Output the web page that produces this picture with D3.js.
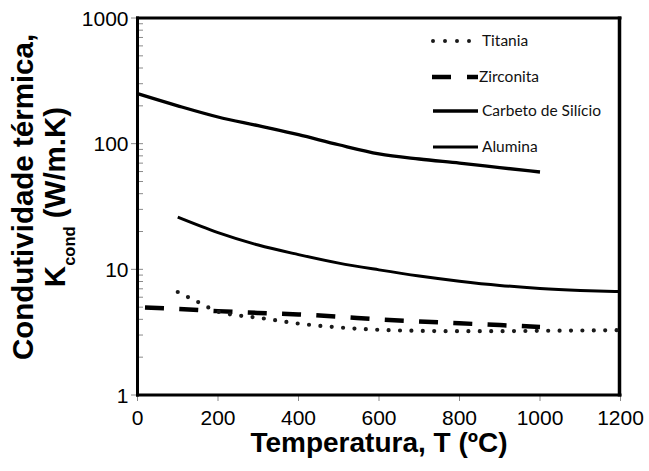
<!DOCTYPE html>
<html>
<head>
<meta charset="utf-8">
<script src="https://cdn.jsdelivr.net/npm/d3@7"></script>
<style>
  body { margin: 0; background: #fff; }
  svg { display: block; }
</style>
</head>
<body>
<svg id="chart" width="649" height="471"></svg>
<script>
// Thermal conductivity (W/m.K) versus temperature (°C)
const sicTemps = [0, 100, 200, 300, 400, 500, 600, 700, 800, 900, 1000];
const sicValues = [250, 200, 163, 139, 118, 98, 83, 75.5, 70, 64.5, 59.5];

const aluminaTemps = [100, 200, 300, 400, 500, 600, 700, 800, 900, 1000, 1100, 1200];
const aluminaValues = [26, 19.6, 15.6, 13.1, 11.2, 9.9, 8.85, 8.05, 7.45, 7.05, 6.8, 6.65];

const zirconiaTemps = [0, 100, 200, 300, 400, 500, 600, 700, 800, 900, 1000];
const zirconiaValues = [5.0, 4.85, 4.65, 4.5, 4.38, 4.2, 4.0, 3.85, 3.72, 3.6, 3.48];

const titaniaTemps = [100, 150, 200, 250, 300, 400, 500, 600, 700, 800, 900, 1000, 1100, 1200];
const titaniaValues = [6.6, 5.5, 4.6, 4.3, 4.12, 3.7, 3.45, 3.3, 3.24, 3.22, 3.22, 3.24, 3.26, 3.28];

const xTicks = [0, 200, 400, 600, 800, 1000, 1200];
const yTicks = [1, 10, 100, 1000];
const legendLabels = ["Titania", "Zirconita", "Carbeto de Silício", "Alumina"];

const svg = d3.select("#chart");
const plotLeft = 137.5, plotRight = 620.5, plotTop = 18, plotBottom = 395;

const x = d3.scaleLinear().domain([0, 1200]).range([plotLeft, plotRight]);
const y = d3.scaleLog().domain([1, 1000]).range([plotBottom, plotTop]);

const tickFont = "'Liberation Sans', Arial, sans-serif";

// minor log ticks (inside) and major ticks (crossing the axis)
const minor = [];
for (let d = 1; d < 1000; d *= 10) for (let k = 2; k <= 9; k++) minor.push(d * k);
svg.append("g").selectAll("line").data(minor).join("line")
  .attr("x1", plotLeft).attr("x2", plotLeft + 5.5)
  .attr("y1", d => y(d)).attr("y2", d => y(d))
  .attr("stroke", "#8a8a8a").attr("stroke-width", 1);

svg.append("g").selectAll("line").data(yTicks).join("line")
  .attr("x1", plotLeft - 6.5).attr("x2", plotLeft + 5.5)
  .attr("y1", d => y(d)).attr("y2", d => y(d))
  .attr("stroke", "#8a8a8a").attr("stroke-width", 1);

svg.append("g").selectAll("line").data(xTicks).join("line")
  .attr("x1", d => x(d)).attr("x2", d => x(d))
  .attr("y1", plotBottom).attr("y2", plotBottom + 6)
  .attr("stroke", "#8a8a8a").attr("stroke-width", 1);

// tick labels
svg.append("g").selectAll("text").data(yTicks).join("text")
  .attr("x", plotLeft - 9).attr("y", d => y(d)).attr("dy", "0.36em")
  .attr("text-anchor", "end")
  .style("font-family", tickFont).style("font-size", "21px")
  .text(d => d);

svg.append("g").selectAll("text").data(xTicks).join("text")
  .attr("x", d => x(d)).attr("y", 425)
  .attr("text-anchor", "middle")
  .style("font-family", tickFont).style("font-size", "21px")
  .text(d => d);

// frame
svg.append("line").attr("x1", plotLeft).attr("x2", plotLeft).attr("y1", plotTop - 1.5).attr("y2", plotBottom + 1.5)
  .attr("stroke", "#000").attr("stroke-width", 3);
svg.append("line").attr("x1", plotLeft - 1.5).attr("x2", plotRight + 1).attr("y1", plotBottom).attr("y2", plotBottom)
  .attr("stroke", "#000").attr("stroke-width", 3);
svg.append("line").attr("x1", plotLeft - 1.5).attr("x2", plotRight + 1).attr("y1", plotTop).attr("y2", plotTop)
  .attr("stroke", "#000").attr("stroke-width", 3);
svg.append("line").attr("x1", plotRight - 1).attr("x2", plotRight - 1).attr("y1", plotTop - 1.5).attr("y2", plotBottom + 1.5)
  .attr("stroke", "#000").attr("stroke-width", 3.5);

// curves
const line = d3.line().x(d => x(d[0])).y(d => y(d[1])).curve(d3.curveMonotoneX);
const zip = (a, b) => a.map((t, i) => [t, b[i]]);

svg.append("path").datum(zip(sicTemps, sicValues))
  .attr("d", line).attr("fill", "none").attr("stroke", "#000").attr("stroke-width", 3.3);

svg.append("path").datum(zip(aluminaTemps, aluminaValues))
  .attr("d", line).attr("fill", "none").attr("stroke", "#000").attr("stroke-width", 3);

svg.append("path").datum(zip(zirconiaTemps, zirconiaValues))
  .attr("d", line).attr("fill", "none").attr("stroke", "#000").attr("stroke-width", 4.5)
  .attr("stroke-dasharray", "19 15.3").attr("stroke-dashoffset", 26.8);

svg.append("path").datum(zip(titaniaTemps, titaniaValues))
  .attr("d", line).attr("fill", "none").attr("stroke", "#1a1a1a").attr("stroke-width", 4.2)
  .attr("stroke-linecap", "round").attr("stroke-dasharray", "0 11.4");

// legend
const legendFont = "Lato, 'Open Sans', sans-serif";
const lg = svg.append("g");
const rowsY = [41, 77, 111, 147];
lg.append("line").attr("x1", 433).attr("x2", 470).attr("y1", rowsY[0]).attr("y2", rowsY[0])
  .attr("stroke", "#1a1a1a").attr("stroke-width", 4).attr("stroke-linecap", "round")
  .attr("stroke-dasharray", "0 12");
lg.append("line").attr("x1", 432).attr("x2", 478).attr("y1", rowsY[1]).attr("y2", rowsY[1])
  .attr("stroke", "#000").attr("stroke-width", 4.3).attr("stroke-dasharray", "19 16 11");
lg.append("line").attr("x1", 433).attr("x2", 478).attr("y1", rowsY[2]).attr("y2", rowsY[2])
  .attr("stroke", "#000").attr("stroke-width", 3.3);
lg.append("line").attr("x1", 433).attr("x2", 478).attr("y1", rowsY[3]).attr("y2", rowsY[3])
  .attr("stroke", "#000").attr("stroke-width", 3);
lg.selectAll("text").data(legendLabels).join("text")
  .attr("x", (d, i) => i === 1 ? 479 : 482)
  .attr("y", (d, i) => rowsY[i]).attr("dy", "0.35em")
  .style("font-family", legendFont).style("font-size", "15.5px").attr("fill", "#111")
  .text(d => d);

// axis titles
const titleFont = "'Liberation Sans', Arial, sans-serif";
svg.append("text")
  .attr("x", (plotLeft + plotRight) / 2).attr("y", 452)
  .attr("text-anchor", "middle")
  .style("font-family", titleFont).style("font-size", "28px").style("font-weight", "bold")
  .text("Temperatura, T (ºC)");

const yt = svg.append("g").attr("transform", "translate(33,197) rotate(-90)");
yt.append("text").attr("x", 0).attr("y", 0).attr("text-anchor", "middle")
  .style("font-family", titleFont).style("font-size", "29.5px").style("font-weight", "bold")
  .text("Condutividade térmica,");
const t2 = yt.append("text").attr("x", 0).attr("y", 32).attr("text-anchor", "middle")
  .style("font-family", titleFont).style("font-size", "29.5px").style("font-weight", "bold");
t2.append("tspan").text("K");
t2.append("tspan").attr("dy", 10).style("font-size", "16.5px").text("cond");
t2.append("tspan").attr("dy", -10).text(" (W/m.K)");
</script>
</body>
</html>
